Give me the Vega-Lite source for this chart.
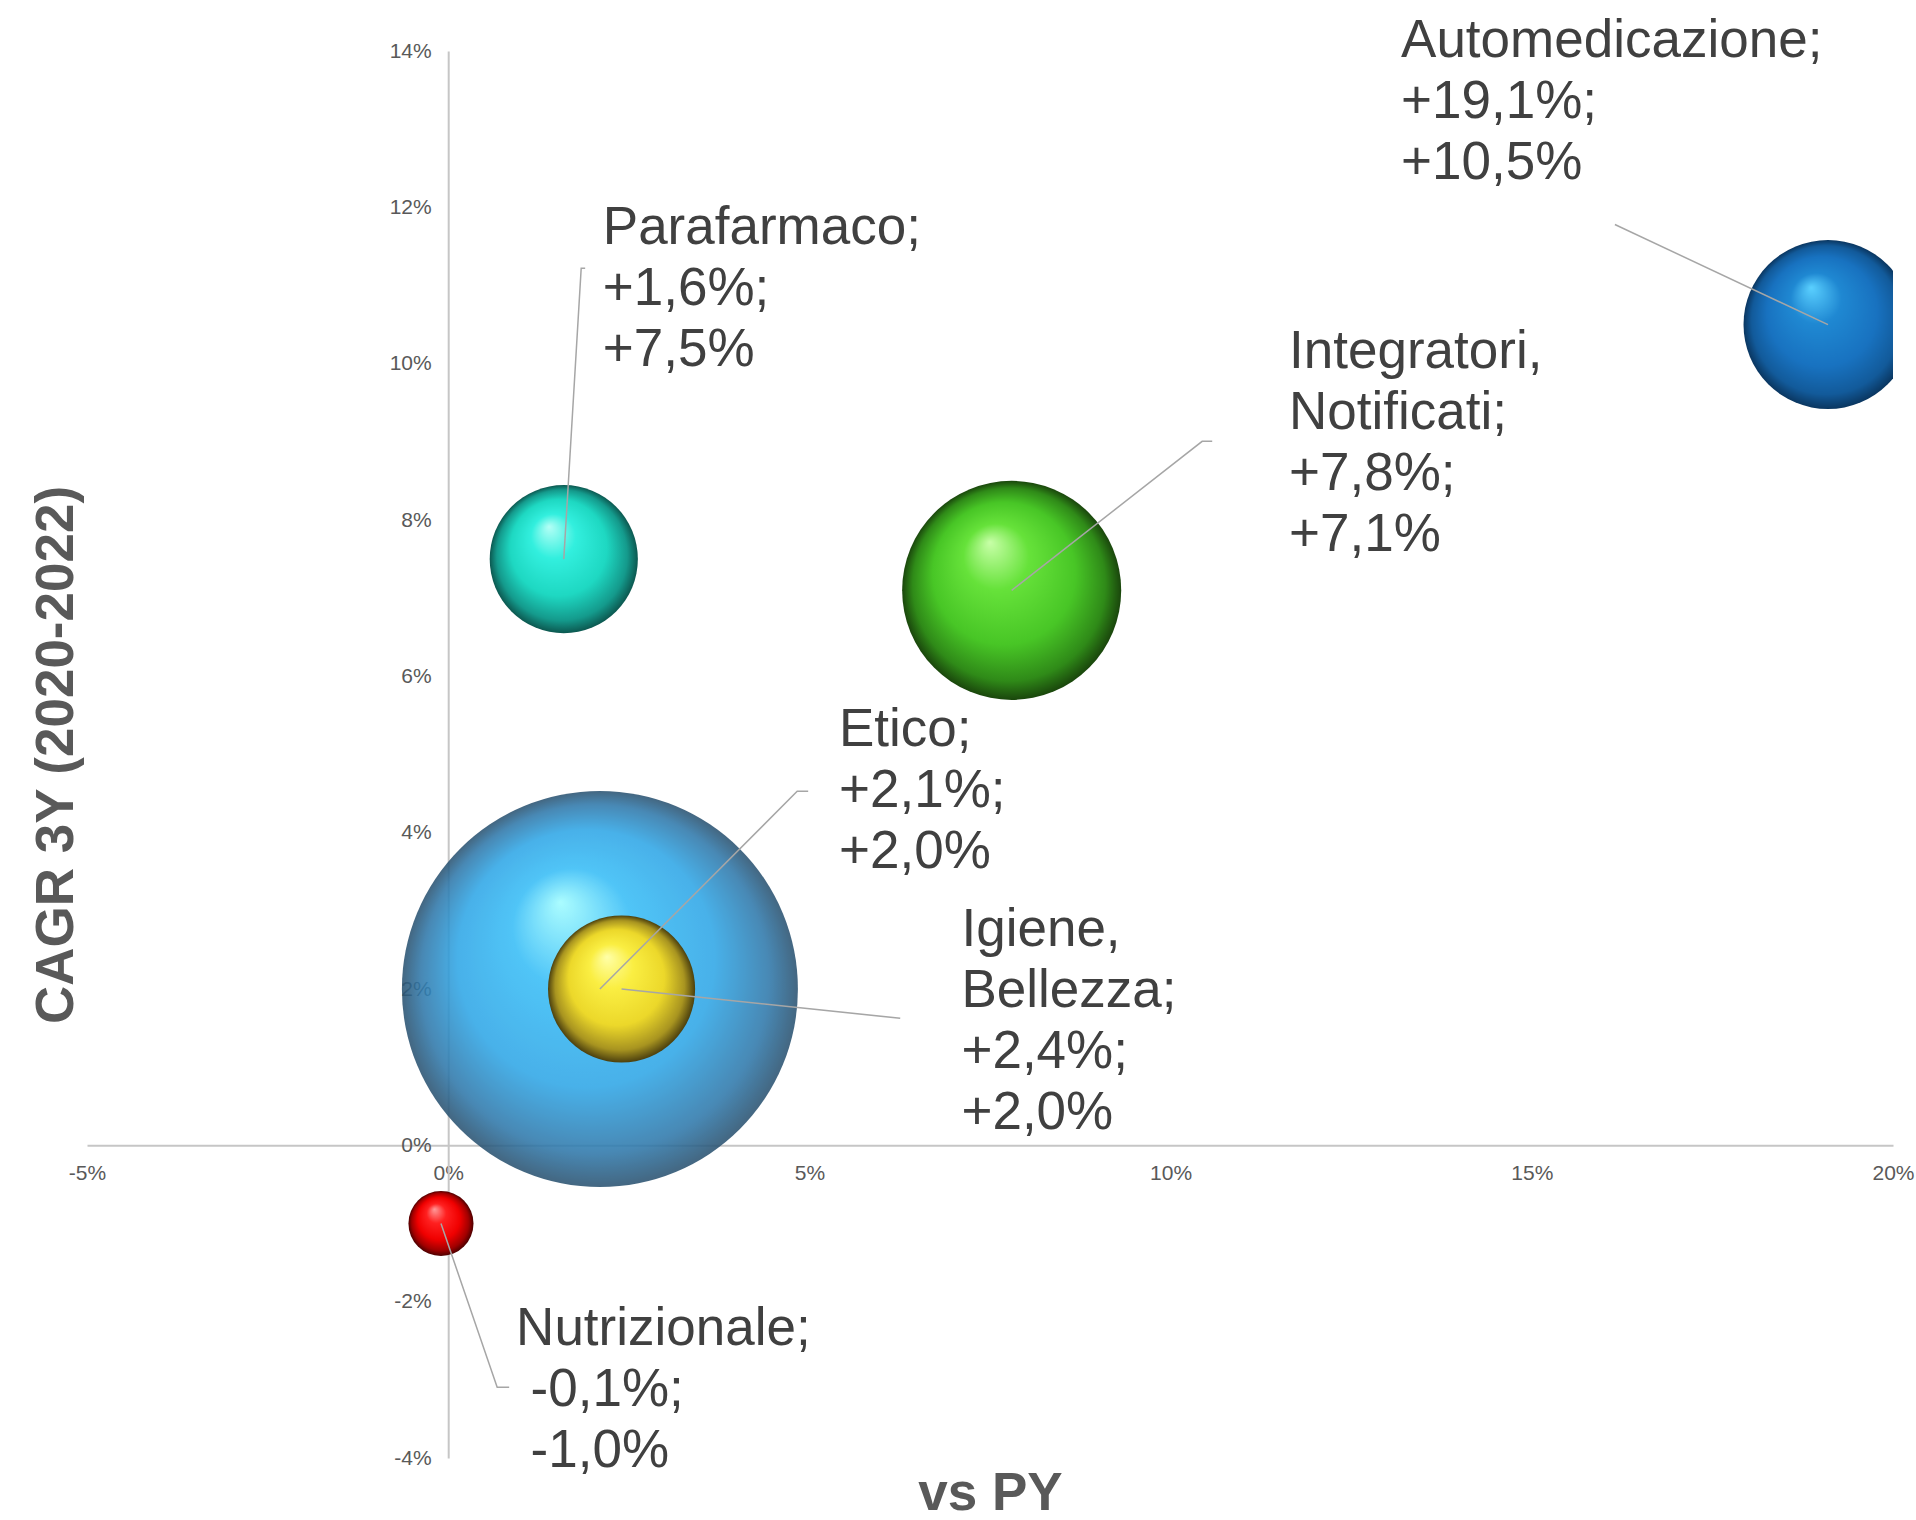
{
  "$schema": "https://vega.github.io/schema/vega-lite/v6.json",
  "width": 1806,
  "height": 1407,
  "autosize": "none",
  "padding": {"left": 87, "top": 51, "right": 23, "bottom": 62},
  "background": "white",
  "config": {"view": {"stroke": null}, "font": "Liberation Sans"},
  "datasets": {
    "bubbles": [
      {"cat": "Etico", "x": 2.1, "y": 2.0, "valore": 100},
      {"cat": "Automedicazione", "x": 19.1, "y": 10.5, "valore": 18.2},
      {"cat": "Integratori, Notificati", "x": 7.8, "y": 7.1, "valore": 30.6},
      {"cat": "Parafarmaco", "x": 1.6, "y": 7.5, "valore": 14.0},
      {"cat": "Igiene, Bellezza", "x": 2.4, "y": 2.0, "valore": 13.8},
      {"cat": "Nutrizionale", "x": -0.1, "y": -1.0, "valore": 2.7}
    ],
    "labels": [
      {"cat": "Automedicazione", "x": 13.19, "y": 14.46, "label": "Automedicazione;\n+19,1%;\n+10,5%"},
      {"cat": "Parafarmaco", "x": 2.14, "y": 12.07, "label": "Parafarmaco;\n+1,6%;\n+7,5%"},
      {"cat": "Integratori, Notificati", "x": 11.64, "y": 10.48, "label": "Integratori,\nNotificati;\n+7,8%;\n+7,1%"},
      {"cat": "Etico", "x": 5.41, "y": 5.64, "label": "Etico;\n+2,1%;\n+2,0%"},
      {"cat": "Igiene, Bellezza", "x": 7.105, "y": 3.09, "label": "Igiene,\nBellezza;\n+2,4%;\n+2,0%"},
      {"cat": "Nutrizionale", "x": 0.94, "y": -2.02, "label": "Nutrizionale;"},
      {"cat": "Nutrizionale", "x": 1.14, "y": -2.80, "label": "-0,1%;\n-1,0%"}
    ],
    "leaders": [
      {"cat": "Automedicazione", "ord": 1, "x": 19.1, "y": 10.5},
      {"cat": "Automedicazione", "ord": 2, "x": 16.15, "y": 11.78},
      {"cat": "Parafarmaco", "ord": 1, "x": 1.6, "y": 7.5},
      {"cat": "Parafarmaco", "ord": 2, "x": 1.841, "y": 11.22},
      {"cat": "Parafarmaco", "ord": 3, "x": 1.896, "y": 11.22},
      {"cat": "Integratori, Notificati", "ord": 1, "x": 7.8, "y": 7.1},
      {"cat": "Integratori, Notificati", "ord": 2, "x": 10.437, "y": 9.006},
      {"cat": "Integratori, Notificati", "ord": 3, "x": 10.576, "y": 9.006},
      {"cat": "Etico", "ord": 1, "x": 2.1, "y": 2.0},
      {"cat": "Etico", "ord": 2, "x": 4.831, "y": 4.529},
      {"cat": "Etico", "ord": 3, "x": 4.983, "y": 4.529},
      {"cat": "Igiene, Bellezza", "ord": 1, "x": 2.4, "y": 2.0},
      {"cat": "Igiene, Bellezza", "ord": 2, "x": 6.257, "y": 1.625},
      {"cat": "Nutrizionale", "ord": 1, "x": -0.1, "y": -1.0},
      {"cat": "Nutrizionale", "ord": 2, "x": 0.678, "y": -3.096},
      {"cat": "Nutrizionale", "ord": 3, "x": 0.844, "y": -3.096}
    ]
  },
  "encoding": {
    "x": {
      "field": "x", "type": "quantitative",
      "scale": {"domain": [-5, 20], "nice": false, "zero": false},
      "axis": {
        "title": "vs PY", "values": [-5, 0, 5, 10, 15, 20], "labelExpr": "datum.value + '%'",
        "offset": -312.67, "grid": false, "ticks": false, "tickSize": 0,
        "domain": true, "domainColor": "#c6c6c6", "domainWidth": 2,
        "labelPadding": 17, "labelFontSize": 21, "labelColor": "#595959", "labelFont": "Liberation Sans",
        "labelFlush": false, "labelOverlap": false,
        "titleFont": "Liberation Sans", "titleFontSize": 53, "titleFontWeight": "bold", "titleColor": "#595959",
        "titleX": 903, "titleY": 364, "titleAlign": "center", "titleBaseline": "alphabetic", "titleAngle": 0
      }
    },
    "y": {
      "field": "y", "type": "quantitative",
      "scale": {"domain": [-4, 14], "nice": false, "zero": false},
      "axis": {
        "title": "CAGR 3Y (2020-2022)", "values": [-4, -2, 0, 2, 4, 6, 8, 10, 12, 14], "labelExpr": "datum.value + '%'",
        "offset": -361.2, "grid": false, "ticks": false, "tickSize": 0,
        "domain": true, "domainColor": "#c6c6c6", "domainWidth": 2,
        "labelPadding": 17, "labelFontSize": 21, "labelColor": "#595959", "labelFont": "Liberation Sans",
        "labelFlush": false, "labelOverlap": false,
        "titleFont": "Liberation Sans", "titleFontSize": 53, "titleFontWeight": "bold", "titleColor": "#595959",
        "titleX": -376, "titleY": 703.5, "titleAlign": "center", "titleBaseline": "alphabetic", "titleAngle": -90
      }
    }
  },
  "layer": [
    {
      "data": {"name": "bubbles"},
      "transform": [{"filter": "datum.cat === 'Etico'"}],
      "mark": {"type": "circle", "opacity": 0.88, "clip": true,
        "fill": {"gradient": "radial", "x1": 0.4, "y1": 0.28, "r1": 0, "x2": 0.5, "y2": 0.5, "r2": 0.5,
          "stops": [{"offset": 0, "color": "#9ffcff"}, {"offset": 0.3, "color": "#38bdf6"}, {"offset": 0.65, "color": "#2fa6e6"}, {"offset": 0.88, "color": "#2f78aa"}, {"offset": 1, "color": "#2a5270"}]}},
      "encoding": {"size": {"field": "valore", "type": "quantitative", "scale": {"domain": [0, 100], "range": [0, 156816]}, "legend": null}}
    },
    {
      "data": {"name": "bubbles"},
      "transform": [{"filter": "datum.cat === 'Automedicazione'"}],
      "mark": {"type": "circle", "opacity": 1, "clip": true,
        "fill": {"gradient": "radial", "x1": 0.4, "y1": 0.28, "r1": 0, "x2": 0.5, "y2": 0.5, "r2": 0.5,
          "stops": [{"offset": 0, "color": "#5ad0ff"}, {"offset": 0.3, "color": "#1f88d2"}, {"offset": 0.65, "color": "#1872c0"}, {"offset": 0.88, "color": "#125a9a"}, {"offset": 1, "color": "#0a3660"}]}},
      "encoding": {"size": {"field": "valore", "type": "quantitative", "scale": {"domain": [0, 100], "range": [0, 156816]}, "legend": null}}
    },
    {
      "data": {"name": "bubbles"},
      "transform": [{"filter": "datum.cat === 'Integratori, Notificati'"}],
      "mark": {"type": "circle", "opacity": 1, "clip": true,
        "fill": {"gradient": "radial", "x1": 0.4, "y1": 0.28, "r1": 0, "x2": 0.5, "y2": 0.5, "r2": 0.5,
          "stops": [{"offset": 0, "color": "#c8ffa8"}, {"offset": 0.3, "color": "#66e23a"}, {"offset": 0.65, "color": "#48c626"}, {"offset": 0.88, "color": "#2f8a18"}, {"offset": 1, "color": "#1a460c"}]}},
      "encoding": {"size": {"field": "valore", "type": "quantitative", "scale": {"domain": [0, 100], "range": [0, 156816]}, "legend": null}}
    },
    {
      "data": {"name": "bubbles"},
      "transform": [{"filter": "datum.cat === 'Parafarmaco'"}],
      "mark": {"type": "circle", "opacity": 1, "clip": true,
        "fill": {"gradient": "radial", "x1": 0.4, "y1": 0.28, "r1": 0, "x2": 0.5, "y2": 0.5, "r2": 0.5,
          "stops": [{"offset": 0, "color": "#b4fff6"}, {"offset": 0.3, "color": "#32efde"}, {"offset": 0.65, "color": "#1ed8c2"}, {"offset": 0.88, "color": "#149a8c"}, {"offset": 1, "color": "#0c5850"}]}},
      "encoding": {"size": {"field": "valore", "type": "quantitative", "scale": {"domain": [0, 100], "range": [0, 156816]}, "legend": null}}
    },
    {
      "data": {"name": "bubbles"},
      "transform": [{"filter": "datum.cat === 'Igiene, Bellezza'"}],
      "mark": {"type": "circle", "opacity": 1, "clip": true,
        "fill": {"gradient": "radial", "x1": 0.4, "y1": 0.28, "r1": 0, "x2": 0.5, "y2": 0.5, "r2": 0.5,
          "stops": [{"offset": 0, "color": "#ffffa8"}, {"offset": 0.3, "color": "#faee42"}, {"offset": 0.65, "color": "#ecd82a"}, {"offset": 0.88, "color": "#a89420"}, {"offset": 1, "color": "#4c400e"}]}},
      "encoding": {"size": {"field": "valore", "type": "quantitative", "scale": {"domain": [0, 100], "range": [0, 156816]}, "legend": null}}
    },
    {
      "data": {"name": "bubbles"},
      "transform": [{"filter": "datum.cat === 'Nutrizionale'"}],
      "mark": {"type": "circle", "opacity": 1, "clip": true,
        "fill": {"gradient": "radial", "x1": 0.4, "y1": 0.28, "r1": 0, "x2": 0.5, "y2": 0.5, "r2": 0.5,
          "stops": [{"offset": 0, "color": "#ff9a9a"}, {"offset": 0.3, "color": "#ff2020"}, {"offset": 0.65, "color": "#f00000"}, {"offset": 0.88, "color": "#a00000"}, {"offset": 1, "color": "#4c0000"}]}},
      "encoding": {"size": {"field": "valore", "type": "quantitative", "scale": {"domain": [0, 100], "range": [0, 156816]}, "legend": null}}
    },
    {
      "data": {"name": "leaders"},
      "mark": {"type": "line", "color": "#a6a6a6", "strokeWidth": 1.5},
      "encoding": {
        "detail": {"field": "cat", "type": "nominal"},
        "order": {"field": "ord", "type": "quantitative"}
      }
    },
    {
      "data": {"name": "labels"},
      "mark": {"type": "text", "align": "left", "baseline": "top", "lineBreak": "\n", "fontSize": 53, "font": "Liberation Sans", "color": "#404040", "lineHeight": 61},
      "encoding": {"text": {"field": "label", "type": "nominal"}}
    }
  ]
}
